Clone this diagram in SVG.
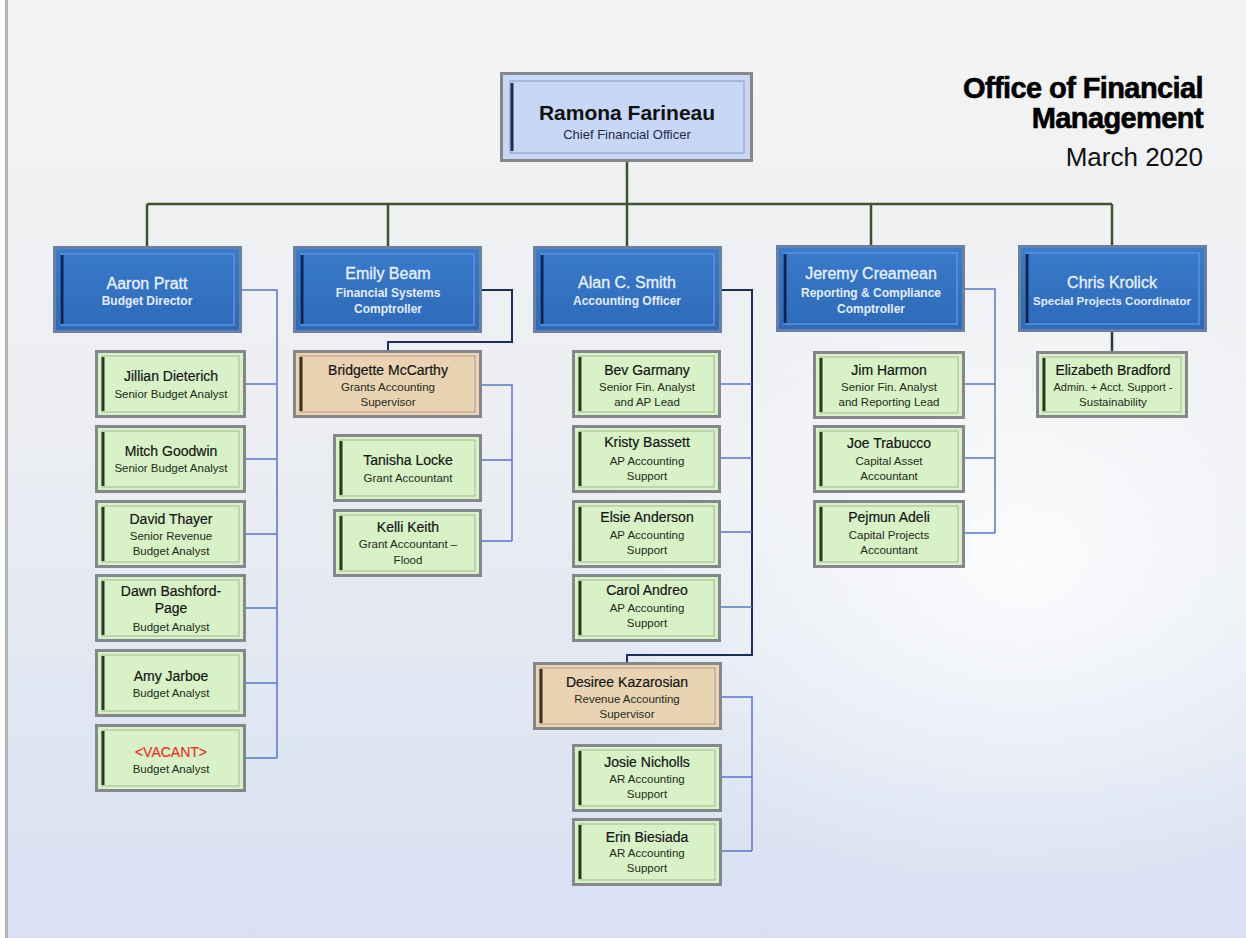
<svg xmlns="http://www.w3.org/2000/svg" width="1246" height="938" viewBox="0 0 1246 938">
<defs>
<linearGradient id="bg" x1="0" y1="0" x2="0" y2="1">
<stop offset="0" stop-color="#f4f4f4"/>
<stop offset="0.45" stop-color="#eceef2"/>
<stop offset="1" stop-color="#d7e1f3"/>
</linearGradient>
<radialGradient id="glow" cx="0.82" cy="0.6" r="0.35">
<stop offset="0" stop-color="#ffffff" stop-opacity="0.85"/>
<stop offset="1" stop-color="#ffffff" stop-opacity="0"/>
</radialGradient>
<linearGradient id="blueg" x1="0" y1="0" x2="0" y2="1">
<stop offset="0" stop-color="#3a7bcb"/>
<stop offset="1" stop-color="#2e6ab9"/>
</linearGradient>
</defs>
<style>
.frame{fill:#85878b}
.bf{fill:#6a7fa2}
.blue{fill:url(#blueg)}
.green{fill:#d8f1c6}
.tan{fill:#e9d3b3}
.topc{fill:#c8d7f6}
.bev-b{fill:none;stroke:#5b93dc;stroke-width:1.5}
.bev-g{fill:none;stroke:#b7c9a9;stroke-width:1.5}
.bev-t{fill:none;stroke:#c3ad90;stroke-width:1.5}
.bev-top{fill:none;stroke:#9fb0cf;stroke-width:1.5}
.lb{stroke:#0d2450;stroke-width:3}
.lg{stroke:#2a3a20;stroke-width:3}
.lt{stroke:#3a2e20;stroke-width:3}
.lp{stroke:#1f2d4f;stroke-width:3}
text{font-family:"Liberation Sans",Arial,sans-serif;text-anchor:middle}
.bn{font-size:16px;fill:#eaf2ff;stroke:#eaf2ff;stroke-width:0.3}
.bs{font-size:12px;font-weight:bold;fill:#e3ecfb}
.gn{font-size:14px;fill:#151515;stroke:#151515;stroke-width:0.2}
.gs{font-size:11.5px;fill:#1f2a1a}
.red{fill:#e8312b;stroke:#e8312b}
.tn{font-size:21px;font-weight:bold;fill:#111}
.ts{font-size:13px;fill:#1c2a4a}
.title{font-size:29px;font-weight:bold;fill:#000;text-anchor:end;letter-spacing:-0.6px;stroke:#000;stroke-width:0.6}
.date{font-size:26px;fill:#111;text-anchor:end}
.c-top{fill:none;stroke:#3d5630;stroke-width:2.5}
.c-navy{fill:none;stroke:#1c2c5c;stroke-width:2}
.c-blue{fill:none;stroke:#5878c6;stroke-width:1.5}
.c-dark{fill:none;stroke:#2f3a3a;stroke-width:2.5}
</style>
<rect x="0" y="0" width="1246" height="938" fill="url(#bg)"/>
<rect x="0" y="0" width="1246" height="938" fill="url(#glow)"/>
<rect x="0" y="0" width="5" height="938" fill="#fbfbfb"/>
<rect x="5" y="0" width="3" height="938" fill="#b4b4b6"/>

<g id="title">
<text class="title" x="1203" y="98">Office of Financial</text>
<text class="title" x="1203" y="128">Management</text>
<text class="date" x="1203" y="166">March 2020</text>
</g>

<g id="connectors">
<path class="c-top" d="M627,162 V204 M147,204 H1112 M147,204 V246 M388,204 V246 M627,204 V246 M871,204 V245 M1112,204 V245"/>
<path class="c-blue" d="M242,290 H277 V758 M246,384 H277 M246,459 H277 M246,534 H277 M246,608 H277 M246,683 H277 M246,758 H277"/>
<path class="c-navy" d="M482,290 H512 V342 H388 V350"/>
<path class="c-blue" d="M482,385 H512 V541 M482,460 H512 M482,541 H512"/>
<path class="c-navy" d="M722,290 H752 V655 H627 V662"/>
<path class="c-blue" d="M721,384 H752 M721,458 H752 M721,532 H752 M721,607 H752"/>
<path class="c-blue" d="M722,697 H752 V851 M722,777 H752 M722,851 H752"/>
<path class="c-blue" d="M965,289 H995 V533 M965,384 H995 M965,458 H995 M965,533 H995"/>
<path class="c-dark" d="M1112,332 V351"/>
</g>

<g id="ramona">
<rect class="frame" x="500" y="72" width="253" height="90"/>
<rect class="topc" x="503" y="75" width="247" height="84"/>
<rect class="bev-top" x="510" y="81" width="234" height="72"/>
<line class="lp" x1="512" y1="83" x2="512" y2="151"/>
<text class="tn" x="627" y="120">Ramona Farineau</text>
<text class="ts" x="627" y="139">Chief Financial Officer</text>
</g>

<g id="aaron">
<rect class="bf" x="53" y="246" width="189" height="87"/>
<rect class="blue" x="56" y="249" width="183" height="81"/>
<rect class="bev-b" x="61" y="254" width="173" height="71"/>
<line class="lb" x1="62" y1="255" x2="62" y2="324"/>
<text class="bn" x="147" y="289">Aaron Pratt</text>
<text class="bs" x="147" y="305">Budget Director</text>
</g>
<g id="emily">
<rect class="bf" x="293" y="246" width="189" height="87"/>
<rect class="blue" x="296" y="249" width="183" height="81"/>
<rect class="bev-b" x="301" y="254" width="173" height="71"/>
<line class="lb" x1="302" y1="255" x2="302" y2="324"/>
<text class="bn" x="388" y="279">Emily Beam</text>
<text class="bs" x="388" y="297">Financial Systems</text>
<text class="bs" x="388" y="313">Comptroller</text>
</g>
<g id="alan">
<rect class="bf" x="533" y="246" width="189" height="87"/>
<rect class="blue" x="536" y="249" width="183" height="81"/>
<rect class="bev-b" x="541" y="254" width="173" height="71"/>
<line class="lb" x1="542" y1="255" x2="542" y2="324"/>
<text class="bn" x="627" y="288">Alan C. Smith</text>
<text class="bs" x="627" y="305">Accounting Officer</text>
</g>
<g id="jeremy">
<rect class="bf" x="776" y="245" width="189" height="87"/>
<rect class="blue" x="779" y="248" width="183" height="81"/>
<rect class="bev-b" x="784" y="253" width="173" height="71"/>
<line class="lb" x1="785" y1="254" x2="785" y2="323"/>
<text class="bn" x="871" y="279">Jeremy Creamean</text>
<text class="bs" x="871" y="297">Reporting &amp; Compliance</text>
<text class="bs" x="871" y="313">Comptroller</text>
</g>
<g id="chris">
<rect class="bf" x="1018" y="245" width="189" height="87"/>
<rect class="blue" x="1021" y="248" width="183" height="81"/>
<rect class="bev-b" x="1026" y="253" width="173" height="71"/>
<line class="lb" x1="1027" y1="254" x2="1027" y2="323"/>
<text class="bn" x="1112" y="288">Chris Krolick</text>
<text class="bs" x="1112" y="305" style="font-size:11.5px">Special Projects Coordinator</text>
</g>

<g id="jillian">
<rect class="frame" x="95" y="350" width="151" height="68"/>
<rect class="green" x="98" y="353" width="145" height="62"/>
<rect class="bev-g" x="102" y="356" width="137" height="56"/>
<line class="lg" x1="103" y1="357" x2="103" y2="411"/>
<text class="gn" x="171" y="381">Jillian Dieterich</text>
<text class="gs" x="171" y="398">Senior Budget Analyst</text>
</g>
<g id="mitch">
<rect class="frame" x="95" y="425" width="151" height="68"/>
<rect class="green" x="98" y="428" width="145" height="62"/>
<rect class="bev-g" x="102" y="431" width="137" height="56"/>
<line class="lg" x1="103" y1="432" x2="103" y2="486"/>
<text class="gn" x="171" y="456">Mitch Goodwin</text>
<text class="gs" x="171" y="472">Senior Budget Analyst</text>
</g>
<g id="david">
<rect class="frame" x="95" y="500" width="151" height="68"/>
<rect class="green" x="98" y="503" width="145" height="62"/>
<rect class="bev-g" x="102" y="506" width="137" height="56"/>
<line class="lg" x1="103" y1="507" x2="103" y2="561"/>
<text class="gn" x="171" y="524">David Thayer</text>
<text class="gs" x="171" y="540">Senior Revenue</text>
<text class="gs" x="171" y="555">Budget Analyst</text>
</g>
<g id="dawn">
<rect class="frame" x="95" y="574" width="151" height="68"/>
<rect class="green" x="98" y="577" width="145" height="62"/>
<rect class="bev-g" x="102" y="580" width="137" height="56"/>
<line class="lg" x1="103" y1="581" x2="103" y2="635"/>
<text class="gn" x="171" y="596">Dawn Bashford-</text>
<text class="gn" x="171" y="613">Page</text>
<text class="gs" x="171" y="631">Budget Analyst</text>
</g>
<g id="amy">
<rect class="frame" x="95" y="649" width="151" height="68"/>
<rect class="green" x="98" y="652" width="145" height="62"/>
<rect class="bev-g" x="102" y="655" width="137" height="56"/>
<line class="lg" x1="103" y1="656" x2="103" y2="710"/>
<text class="gn" x="171" y="681">Amy Jarboe</text>
<text class="gs" x="171" y="697">Budget Analyst</text>
</g>
<g id="vacant">
<rect class="frame" x="95" y="724" width="151" height="68"/>
<rect class="green" x="98" y="727" width="145" height="62"/>
<rect class="bev-g" x="102" y="730" width="137" height="56"/>
<line class="lg" x1="103" y1="731" x2="103" y2="785"/>
<text class="gn red" x="171" y="757">&lt;VACANT&gt;</text>
<text class="gs" x="171" y="773">Budget Analyst</text>
</g>

<g id="bridgette">
<rect class="frame" x="293" y="350" width="189" height="68"/>
<rect class="tan" x="296" y="353" width="183" height="62"/>
<rect class="bev-t" x="300" y="356" width="175" height="56"/>
<line class="lt" x1="301" y1="357" x2="301" y2="411"/>
<text class="gn" x="388" y="375">Bridgette McCarthy</text>
<text class="gs" x="388" y="391">Grants Accounting</text>
<text class="gs" x="388" y="406">Supervisor</text>
</g>
<g id="tanisha">
<rect class="frame" x="333" y="434" width="149" height="68"/>
<rect class="green" x="336" y="437" width="143" height="62"/>
<rect class="bev-g" x="340" y="440" width="135" height="56"/>
<line class="lg" x1="341" y1="441" x2="341" y2="495"/>
<text class="gn" x="408" y="465">Tanisha Locke</text>
<text class="gs" x="408" y="482">Grant Accountant</text>
</g>
<g id="kelli">
<rect class="frame" x="333" y="509" width="149" height="68"/>
<rect class="green" x="336" y="512" width="143" height="62"/>
<rect class="bev-g" x="340" y="515" width="135" height="56"/>
<line class="lg" x1="341" y1="516" x2="341" y2="570"/>
<text class="gn" x="408" y="532">Kelli Keith</text>
<text class="gs" x="408" y="548">Grant Accountant –</text>
<text class="gs" x="408" y="564">Flood</text>
</g>

<g id="bev">
<rect class="frame" x="572" y="350" width="149" height="68"/>
<rect class="green" x="575" y="353" width="143" height="62"/>
<rect class="bev-g" x="579" y="356" width="135" height="56"/>
<line class="lg" x1="580" y1="357" x2="580" y2="411"/>
<text class="gn" x="647" y="375">Bev Garmany</text>
<text class="gs" x="647" y="391">Senior Fin. Analyst</text>
<text class="gs" x="647" y="406">and AP Lead</text>
</g>
<g id="kristy">
<rect class="frame" x="572" y="425" width="149" height="68"/>
<rect class="green" x="575" y="428" width="143" height="62"/>
<rect class="bev-g" x="579" y="431" width="135" height="56"/>
<line class="lg" x1="580" y1="432" x2="580" y2="486"/>
<text class="gn" x="647" y="447">Kristy Bassett</text>
<text class="gs" x="647" y="465">AP Accounting</text>
<text class="gs" x="647" y="480">Support</text>
</g>
<g id="elsie">
<rect class="frame" x="572" y="500" width="149" height="68"/>
<rect class="green" x="575" y="503" width="143" height="62"/>
<rect class="bev-g" x="579" y="506" width="135" height="56"/>
<line class="lg" x1="580" y1="507" x2="580" y2="561"/>
<text class="gn" x="647" y="522">Elsie Anderson</text>
<text class="gs" x="647" y="539">AP Accounting</text>
<text class="gs" x="647" y="554">Support</text>
</g>
<g id="carol">
<rect class="frame" x="572" y="574" width="149" height="68"/>
<rect class="green" x="575" y="577" width="143" height="62"/>
<rect class="bev-g" x="579" y="580" width="135" height="56"/>
<line class="lg" x1="580" y1="581" x2="580" y2="635"/>
<text class="gn" x="647" y="595">Carol Andreo</text>
<text class="gs" x="647" y="612">AP Accounting</text>
<text class="gs" x="647" y="627">Support</text>
</g>
<g id="desiree">
<rect class="frame" x="533" y="662" width="189" height="68"/>
<rect class="tan" x="536" y="665" width="183" height="62"/>
<rect class="bev-t" x="540" y="668" width="175" height="56"/>
<line class="lt" x1="541" y1="669" x2="541" y2="723"/>
<text class="gn" x="627" y="687">Desiree Kazarosian</text>
<text class="gs" x="627" y="703">Revenue Accounting</text>
<text class="gs" x="627" y="718">Supervisor</text>
</g>
<g id="josie">
<rect class="frame" x="572" y="744" width="150" height="68"/>
<rect class="green" x="575" y="747" width="144" height="62"/>
<rect class="bev-g" x="579" y="750" width="136" height="56"/>
<line class="lg" x1="580" y1="751" x2="580" y2="805"/>
<text class="gn" x="647" y="767">Josie Nicholls</text>
<text class="gs" x="647" y="783">AR Accounting</text>
<text class="gs" x="647" y="798">Support</text>
</g>
<g id="erin">
<rect class="frame" x="572" y="818" width="150" height="68"/>
<rect class="green" x="575" y="821" width="144" height="62"/>
<rect class="bev-g" x="579" y="824" width="136" height="56"/>
<line class="lg" x1="580" y1="825" x2="580" y2="879"/>
<text class="gn" x="647" y="842">Erin Biesiada</text>
<text class="gs" x="647" y="857">AR Accounting</text>
<text class="gs" x="647" y="872">Support</text>
</g>

<g id="jim">
<rect class="frame" x="813" y="351" width="152" height="68"/>
<rect class="green" x="816" y="354" width="146" height="62"/>
<rect class="bev-g" x="820" y="357" width="138" height="56"/>
<line class="lg" x1="821" y1="358" x2="821" y2="412"/>
<text class="gn" x="889" y="375">Jim Harmon</text>
<text class="gs" x="889" y="391">Senior Fin. Analyst</text>
<text class="gs" x="889" y="406">and Reporting Lead</text>
</g>
<g id="joe">
<rect class="frame" x="813" y="425" width="152" height="68"/>
<rect class="green" x="816" y="428" width="146" height="62"/>
<rect class="bev-g" x="820" y="431" width="138" height="56"/>
<line class="lg" x1="821" y1="432" x2="821" y2="486"/>
<text class="gn" x="889" y="448">Joe Trabucco</text>
<text class="gs" x="889" y="465">Capital Asset</text>
<text class="gs" x="889" y="480">Accountant</text>
</g>
<g id="pejmun">
<rect class="frame" x="813" y="500" width="152" height="68"/>
<rect class="green" x="816" y="503" width="146" height="62"/>
<rect class="bev-g" x="820" y="506" width="138" height="56"/>
<line class="lg" x1="821" y1="507" x2="821" y2="561"/>
<text class="gn" x="889" y="522">Pejmun Adeli</text>
<text class="gs" x="889" y="539">Capital Projects</text>
<text class="gs" x="889" y="554">Accountant</text>
</g>

<g id="elizabeth">
<rect class="frame" x="1036" y="351" width="152" height="67"/>
<rect class="green" x="1039" y="354" width="146" height="61"/>
<rect class="bev-g" x="1043" y="357" width="138" height="55"/>
<line class="lg" x1="1044" y1="358" x2="1044" y2="411"/>
<text class="gn" x="1113" y="375">Elizabeth Bradford</text>
<text class="gs" x="1113" y="391" style="font-size:11px">Admin. + Acct. Support -</text>
<text class="gs" x="1113" y="406">Sustainability</text>
</g>
</svg>
